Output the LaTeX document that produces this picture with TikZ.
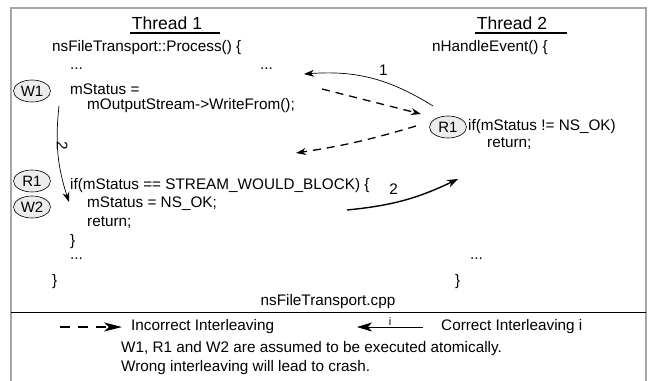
\documentclass[tikz,border=0pt]{standalone}
\usepackage{fontspec}
\setmainfont{Liberation Sans}
\usetikzlibrary{shapes.geometric,arrows.meta}
\begin{document}
\begin{tikzpicture}[x=1pt,y=-1pt,
  txt/.style={anchor=west,inner sep=0pt,font=\fontsize{15.3}{17}\selectfont},
  ctxt/.style={inner sep=0pt,font=\fontsize{15.3}{17}\selectfont},
  ttl/.style={inner sep=0pt,font=\fontsize{17.5}{20}\selectfont},
  tag/.style={ellipse,draw,line width=0.6pt,fill=gray!15,minimum width=37pt,minimum height=22pt,inner sep=0pt,font=\fontsize{15}{17}\selectfont},
  flow/.style={-{Stealth[length=10pt,width=7pt]},line width=0.7pt},
  bold flow/.style={-{Stealth[length=11pt,width=8pt]},line width=1.4pt},
  wrong/.style={-{Stealth[length=10pt,width=7pt]},line width=1.3pt,dash pattern=on 8pt off 6pt},
  lbl/.style={inner sep=0pt,font=\fontsize{15.3}{17}\selectfont}]
\useasboundingbox (0,0) rectangle (655,380);
\fill[white] (0,0) rectangle (655,380);
% frame
\draw[gray!70,line width=1.8pt] (11,382) -- (11,8) -- (646,8) -- (646,382);
\draw[line width=0.8pt] (11,312) -- (646,312);
% Thread 1
\node[ttl] (t1) at (167,23) {Thread 1};
\draw[line width=1.6pt] (130,33) -- (220,33);
\node[txt] (p1) at (52,48) {nsFileTransport::Process() \{};
\node[txt] (d1) at (70,69) {...};
\node[txt] (d2) at (260,69) {...};
\node[tag] (w1) at (32,91) {W1};
\node[txt] (s1) at (70,89) {mStatus =};
\node[txt] (s2) at (87,106) {mOutputStream->WriteFrom();};
\node[tag] (r1a) at (32,181) {R1};
\node[tag] (w2) at (32,207) {W2};
\node[txt] (if1) at (70,186) {if(mStatus == STREAM\_WOULD\_BLOCK) \{};
\node[txt] (s3) at (87,204) {mStatus = NS\_OK;};
\node[txt] (s4) at (87,223) {return;};
\node[txt] (c1) at (70,242) {\}};
\node[txt] (d3) at (70,259) {...};
\node[txt] (c2) at (52,282) {\}};
% Thread 2
\node[ttl] (t2) at (512,23) {Thread 2};
\draw[line width=1.6pt] (475,33) -- (567,33);
\node[ctxt] (h2) at (490,48) {nHandleEvent() \{};
\node[tag] (r1b) at (448,127) {R1};
\node[txt] (if2) at (468,127) {if(mStatus != NS\_OK)};
\node[txt] (r2) at (487,144) {return;};
\node[txt] (d4) at (470,259) {...};
\node[txt] (c3) at (455,282) {\}};
\node[ctxt] (file) at (328,302) {nsFileTransport.cpp};
% connector anchors
\coordinate (a1s) at (433,106);
\coordinate (a1e) at (304,74);
\coordinate (da) at (322,89);
\coordinate (db) at (421,114);
\coordinate (dc) at (416,126);
\coordinate (dd) at (296,153);
\coordinate (b2s) at (347,210);
\coordinate (b2e) at (458,179);
\coordinate (l2s) at (59,106);
\coordinate (l2e) at (69,202);
\draw[flow] (a1s) to[bend right=18] node[lbl,pos=0.4,above=6pt] {1} (a1e);
\draw[wrong] (da) -- (db);
\draw[wrong] (dc) to[bend left=4] (dd);
\draw[bold flow] (b2s) to[bend right=10] node[lbl,pos=0.4,above=8pt] {2} (b2e);
\draw[flow] (l2s) to[bend right=12] node[lbl,pos=0.35,right=5pt,rotate=-90] {2} (l2e);
% legend
\coordinate (lg1) at (60,327);
\coordinate (lg2) at (122,327);
\draw[-{Stealth[length=18pt,width=9pt,inset=5pt]},line width=1.3pt,dash pattern=on 10pt off 8pt] (lg1) -- (lg2);
\node[txt] (inc) at (131,327) {Incorrect Interleaving};
\coordinate (lg3) at (423,327);
\coordinate (lg4) at (357,327);
\draw[-{Stealth[length=15pt,width=9pt,inset=4pt]},line width=0.8pt] (lg3) -- node[lbl,above=1pt,font=\fontsize{11}{12}\selectfont] {i} (lg4);
\node[txt] (cor) at (441,327) {Correct Interleaving i};
\node[txt] (n1) at (121,349) {W1, R1 and W2 are assumed to be executed atomically.};
\node[txt] (n2) at (121,368) {Wrong interleaving will lead to crash.};
\end{tikzpicture}
\end{document}
